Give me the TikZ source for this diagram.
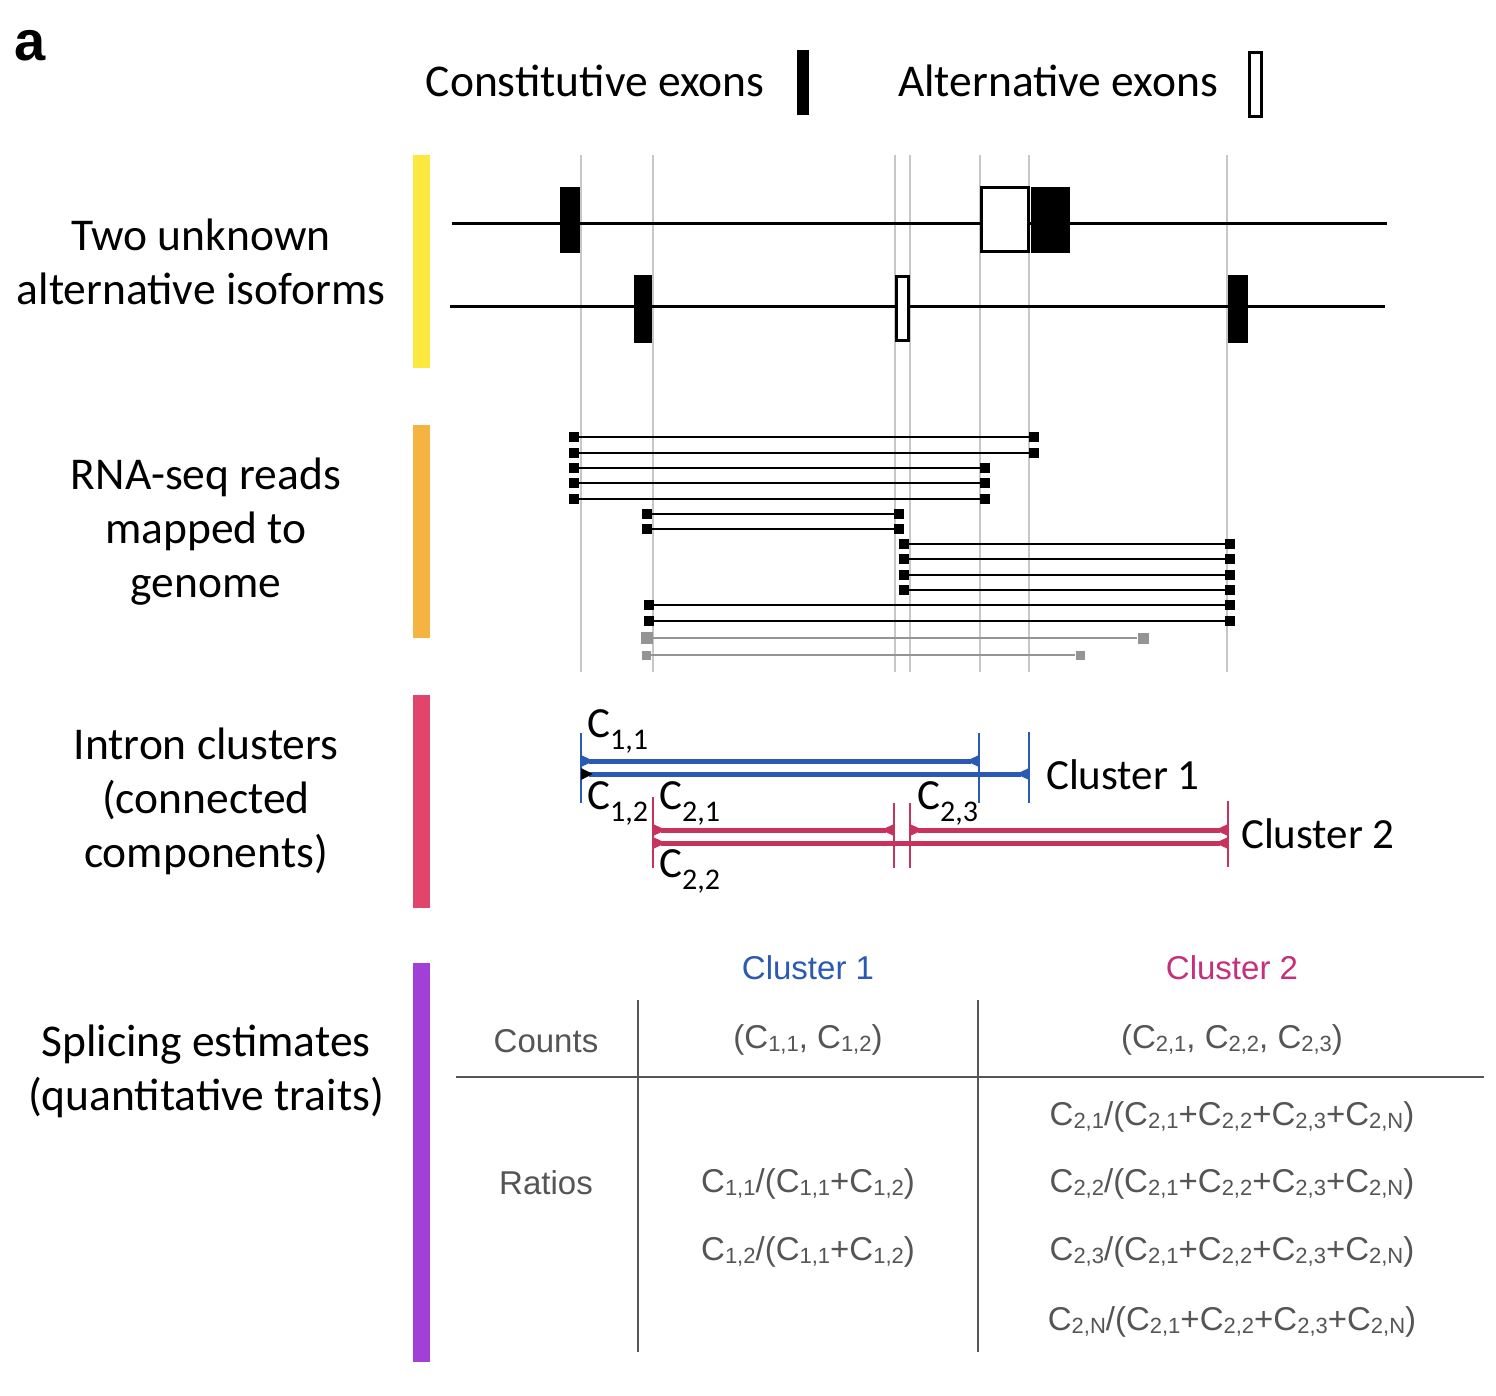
\documentclass[tikz,border=0pt]{standalone}
\usepackage{fontspec}
\setmainfont{Carlito}
\newfontfamily\tabfont{Liberation Sans}
\usetikzlibrary{arrows.meta}
\definecolor{baryellow}{HTML}{FDE840}
\definecolor{barorange}{HTML}{F5B342}
\definecolor{barpink}{HTML}{E2456C}
\definecolor{barpurple}{HTML}{A23FD6}
\definecolor{cblue}{HTML}{2B5AB4}
\definecolor{cred}{HTML}{C8335E}
\definecolor{cmag}{HTML}{C4307A}
\definecolor{tgray}{HTML}{555555}
\newcommand{\csb}[1]{C\raisebox{-0.3em}{\fontsize{30}{30}\selectfont #1}}
\newcommand{\tsb}[1]{C\raisebox{-0.1em}{\fontsize{22}{22}\selectfont #1}}
\tikzset{
	lbl/.style={font=\fontsize{45.5}{54}\selectfont, align=center, inner sep=0},
	clbl/.style={font=\fontsize{43}{50}\selectfont, inner sep=0, anchor=base west},
	ttxt/.style={font=\tabfont\fontsize{33}{38}\selectfont, text=tgray, inner sep=0},
	grid/.style={black!22, line width=1.5pt},
	readend/.style={fill=black, minimum size=10pt, inner sep=0},
	greyend/.style={fill=black!42, minimum size=#1, inner sep=0},
	junc/.style={line width=5pt},
	flare/.tip={Triangle[reversed,length=13pt,width=11pt]},
	blackflare/.tip={Triangle[reversed,length=12pt,width=11pt,black]}
}
\begin{document}
\begin{tikzpicture}[x=1pt,y=-1pt]
	\useasboundingbox (0,0) rectangle (1496,1396);
	\node[font=\tabfont\bfseries\fontsize{56}{60}\selectfont, inner sep=0] (panel) at (30,46) {a};
	% legend
	\node[lbl, anchor=base] (constlbl) at (595,97) {Constitutive exons};
	\fill (797,50) rectangle (809,115);
	\node[lbl, anchor=base] (altlbl) at (1058,97) {Alternative exons};
	\draw[line width=3pt] (1249,53) rectangle (1261,117);
	% colour bars
	\fill[baryellow] (413,155) rectangle (430,368);
	\fill[barorange] (413,425) rectangle (430,638);
	\fill[barpink] (413,695) rectangle (430,908);
	\fill[barpurple] (413,963) rectangle (430,1362);
	\node[lbl] (isolbl) at (201,262) {Two unknown\\alternative isoforms};
	\node[lbl] (readlbl) at (206,532) {RNA-seq reads\\mapped to\\genome};
	\node[lbl] (clulbl) at (206,801) {Intron clusters\\(connected\\components)};
	\node[lbl] (estlbl) at (206,1071) {Splicing estimates\\(quantitative traits)};
	% splice sites
	\foreach \x in {581,653,895,910,980,1029,1227}
		\draw[grid] (\x,155) -- (\x,672);
	% isoforms
	\draw[line width=3pt] (452,224) -- (1387,224);
	\draw[line width=3pt] (450,307) -- (1385,307);
	\fill (560,187) rectangle (580,253);
	\draw[line width=3pt, fill=white] (981,188) rectangle (1028,252);
	\fill (1031,187) rectangle (1070,253);
	\fill (634,275) rectangle (652,343);
	\draw[line width=3pt, fill=white] (896,277) rectangle (908,341);
	\fill (1228,275) rectangle (1248,343);
	% reads
	\foreach \l/\r/\y [count=\i] in {574/1034/437,574/1034/452.7,574/985/468.3,574/985/483.3,574/985/498.7,647/899/514,647/899/529,904/1230/544.3,904/1230/559.3,904/1230/574.7,904/1230/590,649/1230/605.3,649/1230/620.7}{
		\node[readend] (rl\i) at (\l,\y) {};
		\node[readend] (rr\i) at (\r,\y) {};
		\draw[line width=2pt] (rl\i) -- (rr\i);
	}
	\node[greyend=12pt] (gl1) at (647,638) {};
	\node[greyend=11pt] (gr1) at (1143,638) {};
	\draw[black!42, line width=2pt] (gl1) -- (gr1);
	\node[greyend=9pt] (gl2) at (646,655) {};
	\node[greyend=9pt] (gr2) at (1080,655) {};
	\draw[black!42, line width=2pt] (gl2) -- (gr2);
	% cluster 1
	\draw[cblue, line width=2pt] (581,733) -- (581,803);
	\draw[cblue, line width=2pt] (979,733) -- (979,803);
	\draw[cblue, line width=2pt] (1029,732) -- (1029,803);
	\coordinate (a11) at (581,761);
	\coordinate (b11) at (979,761);
	\coordinate (a12) at (581,774);
	\coordinate (b12) at (1029,774);
	\draw[cblue, junc, flare-flare] (a11) -- (b11);
	\draw[cblue, junc, blackflare-flare] (a12) -- (b12);
	\node[clbl] (c11) at (587,737) {\csb{1,1}};
	\node[clbl] (c12) at (587,809) {\csb{1,2}};
	\node[clbl] (cl1) at (1046,789) {Cluster 1};
	% cluster 2
	\draw[cred, line width=2pt] (653,797) -- (653,868);
	\draw[cred, line width=2pt] (894,803) -- (894,868);
	\draw[cred, line width=2pt] (910,803) -- (910,868);
	\draw[cred, line width=2pt] (1228,801) -- (1228,867);
	\coordinate (a21) at (653,830);
	\coordinate (b21) at (894,830);
	\coordinate (a22) at (653,843);
	\coordinate (b22) at (1228,843);
	\coordinate (a23) at (910,830);
	\coordinate (b23) at (1228,830);
	\draw[cred, junc, flare-flare] (a21) -- (b21);
	\draw[cred, junc, flare-flare] (a22) -- (b22);
	\draw[cred, junc, flare-flare] (a23) -- (b23);
	\node[clbl] (c21) at (659,809) {\csb{2,1}};
	\node[clbl] (c22) at (659,877) {\csb{2,2}};
	\node[clbl] (c23) at (917,809) {\csb{2,3}};
	\node[clbl] (cl2) at (1241,848) {Cluster 2};
	% table
	\draw[tgray, line width=2.5pt] (638,1000) -- (638,1352);
	\draw[tgray, line width=2.5pt] (978,1000) -- (978,1352);
	\draw[tgray, line width=2.5pt] (456,1077) -- (1484,1077);
	\node[ttxt, text=cblue] (h1) at (808,968) {Cluster 1};
	\node[ttxt, text=cmag] (h2) at (1232,968) {Cluster 2};
	\node[ttxt] (counts) at (546,1041) {Counts};
	\node[ttxt] (n1) at (808,1040) {(\tsb{1,1}, \tsb{1,2})};
	\node[ttxt] (n2) at (1232,1040) {(\tsb{2,1}, \tsb{2,2}, \tsb{2,3})};
	\node[ttxt] (ratios) at (546,1183) {Ratios};
	\node[ttxt] (r11) at (808,1184) {\tsb{1,1}/(\tsb{1,1}+\tsb{1,2})};
	\node[ttxt] (r12) at (808,1252) {\tsb{1,2}/(\tsb{1,1}+\tsb{1,2})};
	\node[ttxt] (r21) at (1232,1117) {\tsb{2,1}/(\tsb{2,1}+\tsb{2,2}+\tsb{2,3}+\tsb{2,N})};
	\node[ttxt] (r22) at (1232,1184) {\tsb{2,2}/(\tsb{2,1}+\tsb{2,2}+\tsb{2,3}+\tsb{2,N})};
	\node[ttxt] (r23) at (1232,1252) {\tsb{2,3}/(\tsb{2,1}+\tsb{2,2}+\tsb{2,3}+\tsb{2,N})};
	\node[ttxt] (r2n) at (1232,1322) {\tsb{2,N}/(\tsb{2,1}+\tsb{2,2}+\tsb{2,3}+\tsb{2,N})};
\end{tikzpicture}
\end{document}
